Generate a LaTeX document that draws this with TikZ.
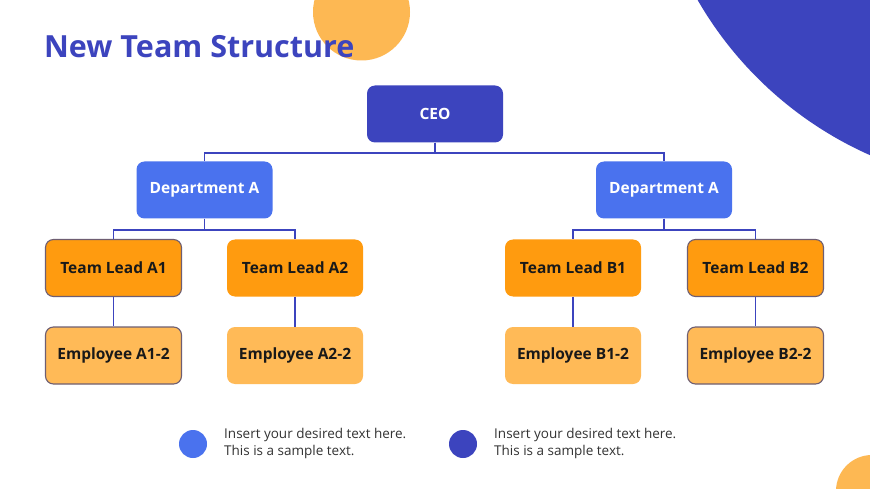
\documentclass[tikz,border=0pt]{standalone}
\usepackage{fontspec}
\setmainfont{Open Sans}
\usepackage{xcolor}
\usepackage{tikz}
\usetikzlibrary{positioning}

\definecolor{indigo}{HTML}{3C44BE}
\definecolor{deptblue}{HTML}{4A72EE}
\definecolor{leadorange}{HTML}{FF9B0F}
\definecolor{emporange}{HTML}{FFBA57}
\definecolor{dotorange}{HTML}{FDB853}
\definecolor{boxedge}{HTML}{6E5E72}
\definecolor{legendtext}{HTML}{333333}

\begin{document}
\begin{tikzpicture}[
    x=1pt, y=-1pt,
    every node/.style={rectangle, rounded corners=8pt, align=center, font=\bfseries\fontsize{15.5}{18}\selectfont,
        minimum width=136pt, minimum height=57pt, inner sep=0pt},
    ceobox/.style={fill=indigo, text=white},
    deptbox/.style={fill=deptblue, text=white},
    leadbox/.style={fill=leadorange, text=black!90},
    empbox/.style={fill=emporange, text=black!90},
    edged/.style={draw=boxedge, line width=1.1pt},
    link/.style={draw=indigo, line width=1.9pt}
]
% page and background shapes
\useasboundingbox (0,0) rectangle (870,489);
\fill[white] (0,0) rectangle (870,489);
\begin{scope}
    \clip (0,0) rectangle (870,489);
    \fill[indigo] (1021,-186) circle[radius=373];
    \fill[dotorange] (361.5,12) circle[radius=48.5];
    \fill[dotorange] (872,491) circle[radius=36];
\end{scope}

% title
\node[anchor=base west, rectangle, minimum width=0pt, minimum height=0pt, text=indigo,
    font=\bfseries\fontsize{30.5}{36}\selectfont] (title) at (44,58) {New Team Structure};

% chart
\node[ceobox] (ceo) at (435,114) {CEO};
\node[deptbox] (deptA) at (204.5,190) {Department A};
\node[deptbox] (deptB) at (664,190) {Department A};

\node[leadbox, edged] (leadA1) at (113.5,268) {Team Lead A1};
\node[leadbox] (leadA2) at (295,268) {Team Lead A2};
\node[leadbox] (leadB1) at (573,268) {Team Lead B1};
\node[leadbox, edged] (leadB2) at (755.5,268) {Team Lead B2};

\node[empbox, edged] (empA1) at (113.5,355.5) {Employee A1-2};
\node[empbox] (empA2) at (295,355.5) {Employee A2-2};
\node[empbox] (empB1) at (573,355.5) {Employee B1-2};
\node[empbox, edged] (empB2) at (755.5,355.5) {Employee B2-2};

% connectors
\draw[link] (ceo.south) -- ++(0,10) -| (deptA.north);
\draw[link] (ceo.south) -- ++(0,10) -| (deptB.north);
\draw[link] (deptA.south) -- ++(0,11) -| (leadA1.north);
\draw[link] (deptA.south) -- ++(0,11) -| (leadA2.north);
\draw[link] (deptB.south) -- ++(0,11) -| (leadB1.north);
\draw[link] (deptB.south) -- ++(0,11) -| (leadB2.north);
\draw[link] (leadA1) -- (empA1);
\draw[link] (leadA2) -- (empA2);
\draw[link] (leadB1) -- (empB1);
\draw[link] (leadB2) -- (empB2);

% legend
\node[circle, fill=deptblue, minimum width=28pt, minimum height=28pt] (dotA) at (193,444) {};
\node[circle, fill=indigo, minimum width=28pt, minimum height=28pt] (dotB) at (463,444) {};
\node[anchor=west, rectangle, minimum width=0pt, minimum height=0pt, align=left, text=legendtext,
    font=\fontsize{13.5}{17}\selectfont] (textA) at (224,443) {Insert your desired text here.\\This is a sample text.};
\node[anchor=west, rectangle, minimum width=0pt, minimum height=0pt, align=left, text=legendtext,
    font=\fontsize{13.5}{17}\selectfont] (textB) at (494,443) {Insert your desired text here.\\This is a sample text.};
\end{tikzpicture}
\end{document}
